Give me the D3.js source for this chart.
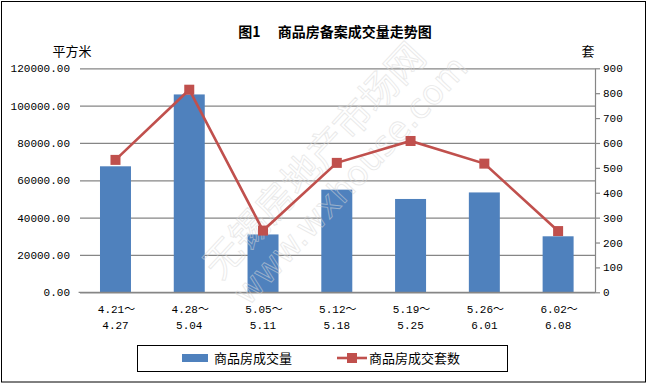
<!DOCTYPE html>
<html>
<head>
<meta charset="utf-8">
<script src="https://cdn.jsdelivr.net/npm/d3@7"></script>
<style>
  body { margin: 0; background: #fff; }
  text { font-family: "Liberation Mono", "Noto Sans CJK SC", monospace; }
</style>
</head>
<body>
<svg></svg>
<script>
var svgWidth = 651;
var svgHeight = 386;

// data
var weekStart = ['4.21～', '4.28～', '5.05～', '5.12～', '5.19～', '5.26～', '6.02～'];
var weekEnd   = ['4.27', '5.04', '5.11', '5.18', '5.25', '6.01', '6.08'];
var areaValues = [67500, 106000, 31000, 55000, 50000, 53500, 30000];   // 平方米
var unitValues = [532, 814, 248, 520, 608, 517, 246];                  // 套
var leftTicks = [0, 20000, 40000, 60000, 80000, 100000, 120000];
var rightTicks = [0, 100, 200, 300, 400, 500, 600, 700, 800, 900];
var seriesNames = ['商品房成交量', '商品房成交套数'];

var barColor = '#4F81BD';
var lineColor = '#C0504D';
var gridColor = '#868686';

var plot = { left: 78.6, right: 595, top: 68.3, bottom: 292.3 };

var svg = d3.select('svg')
    .attr('width', svgWidth)
    .attr('height', svgHeight)
    .style('background', '#fff');

// outer frame
svg.append('rect')
    .attr('x', 1.5).attr('y', 1.5)
    .attr('width', 644).attr('height', 380.5)
    .attr('fill', 'none').attr('stroke', '#000').attr('stroke-width', 1);

var x = d3.scaleBand()
    .domain(weekStart)
    .range([plot.left, plot.right])
    .paddingInner(0.58)
    .paddingOuter(0.29);

var yLeft = d3.scaleLinear().domain([0, 120000]).range([plot.bottom, plot.top]);
var yRight = d3.scaleLinear().domain([0, 900]).range([plot.bottom, plot.top]);

/* gridlines + left labels */
var leftAxis = svg.append('g')
    .attr('transform', `translate(${plot.left + 1.4},0)`)
    .call(d3.axisLeft(yLeft).tickValues(leftTicks)
        .tickSize(-(plot.right - plot.left - 1.4))
        .tickPadding(10)
        .tickFormat(d => d3.format('.2f')(d)));
leftAxis.select('.domain').remove();
leftAxis.selectAll('line').attr('stroke', gridColor).attr('stroke-width', 1.2);
leftAxis.selectAll('text')
    .attr('x', -10)
    .style('font-size', '11px')
    .attr('fill', '#000');

/* bars */
svg.selectAll('rect.bar')
    .data(areaValues)
    .enter()
    .append('rect')
    .attr('class', 'bar')
    .attr('x', (d, i) => x(weekStart[i]))
    .attr('y', d => yLeft(d))
    .attr('width', x.bandwidth())
    .attr('height', d => yLeft(0) - yLeft(d))
    .attr('fill', barColor);

/* bottom axis line */
svg.append('line')
    .attr('x1', plot.left).attr('x2', plot.right)
    .attr('y1', plot.bottom).attr('y2', plot.bottom)
    .attr('stroke', gridColor).attr('stroke-width', 1.2);

/* right axis */
var rightAxis = svg.append('g')
    .attr('transform', `translate(${plot.right},0)`)
    .call(d3.axisRight(yRight).tickValues(rightTicks)
        .tickSize(5).tickPadding(3).tickSizeOuter(0));
rightAxis.select('.domain').attr('stroke', gridColor).attr('stroke-width', 1.2);
rightAxis.selectAll('line').attr('stroke', gridColor).attr('stroke-width', 1.2);
rightAxis.selectAll('text').style('font-size', '11px').attr('fill', '#000');

/* category labels */
var cats = svg.append('g');
weekStart.forEach(function(d, i) {
    var cx = x(d) + x.bandwidth() / 2;
    cats.append('text').text(d)
        .attr('x', cx + 1).attr('y', 313)
        .attr('text-anchor', 'middle')
        .style('font-size', '11px');
    cats.append('text').text(weekEnd[i])
        .attr('x', cx).attr('y', 329)
        .attr('text-anchor', 'middle')
        .style('font-size', '11px');
});

/* watermark */
var wm = svg.append('g')
    .attr('transform', 'translate(330,175) rotate(-47)')
    .style('opacity', 0.55);
wm.append('text').text('无锡房地产市场网')
    .attr('x', 0).attr('y', -8)
    .attr('text-anchor', 'middle')
    .style('font-family', '"Noto Sans CJK SC"')
    .style('font-size', '38px')
    .attr('fill', 'none').attr('stroke', '#d8d8d8').attr('stroke-width', 0.9);
wm.append('text').text('www.wxhouse.com')
    .attr('x', 10).attr('y', 30)
    .attr('text-anchor', 'middle')
    .style('font-family', '"DejaVu Sans"')
    .style('font-size', '34px')
    .attr('fill', 'none').attr('stroke', '#d8d8d8').attr('stroke-width', 0.9);

/* line + markers */
var line = d3.line()
    .x((d, i) => x(weekStart[i]) + x.bandwidth() / 2)
    .y(d => yRight(d));

svg.append('path')
    .datum(unitValues)
    .attr('d', line)
    .attr('fill', 'none')
    .attr('stroke', lineColor)
    .attr('stroke-width', 2.6);

svg.selectAll('rect.mark')
    .data(unitValues)
    .enter()
    .append('rect')
    .attr('class', 'mark')
    .attr('x', (d, i) => x(weekStart[i]) + x.bandwidth() / 2 - 5)
    .attr('y', d => yRight(d) - 5)
    .attr('width', 10).attr('height', 10)
    .attr('fill', lineColor);

/* titles */
svg.append('text')
    .text('图1　 商品房备案成交量走势图')
    .attr('x', 335).attr('y', 37)
    .attr('text-anchor', 'middle')
    .style('font-family', '"Noto Sans CJK SC"')
    .style('font-weight', 'bold')
    .style('font-size', '14px');

svg.append('text').text('平方米')
    .attr('x', 72).attr('y', 56)
    .attr('text-anchor', 'middle')
    .style('font-family', '"Noto Sans CJK SC"')
    .style('font-size', '13px');

svg.append('text').text('套')
    .attr('x', 588).attr('y', 56)
    .attr('text-anchor', 'middle')
    .style('font-family', '"Noto Sans CJK SC"')
    .style('font-size', '13px');

/* legend */
var legend = svg.append('g');
legend.append('rect')
    .attr('x', 137.5).attr('y', 345.5)
    .attr('width', 370).attr('height', 26)
    .attr('fill', '#fff').attr('stroke', '#000').attr('stroke-width', 1);
legend.append('rect')
    .attr('x', 182).attr('y', 354)
    .attr('width', 26).attr('height', 8)
    .attr('fill', barColor);
legend.append('text').text(seriesNames[0])
    .attr('x', 214).attr('y', 363)
    .style('font-family', '"Noto Sans CJK SC"')
    .style('font-size', '13px');
legend.append('line')
    .attr('x1', 337).attr('x2', 367)
    .attr('y1', 358).attr('y2', 358)
    .attr('stroke', lineColor).attr('stroke-width', 2.6);
legend.append('rect')
    .attr('x', 347).attr('y', 353)
    .attr('width', 10).attr('height', 10)
    .attr('fill', lineColor);
legend.append('text').text(seriesNames[1])
    .attr('x', 369).attr('y', 363)
    .style('font-family', '"Noto Sans CJK SC"')
    .style('font-size', '13px');
</script>
</body>
</html>
